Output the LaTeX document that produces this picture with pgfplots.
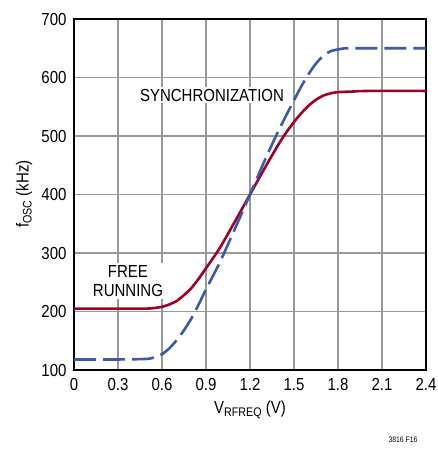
\documentclass[border=0pt]{standalone}
\usepackage{fontspec}
\setmainfont{Liberation Sans}[FakeStretch=0.86]
\usepackage{pgfplots}
\pgfplotsset{compat=1.18}
\definecolor{redc}{HTML}{A00028}
\definecolor{bluec}{HTML}{3D59A8}
\definecolor{gridc}{HTML}{9A9A9A}
\newcommand{\lbl}{\fontsize{17.5}{20}\selectfont}
\begin{document}
\begin{tikzpicture}
\useasboundingbox (-74bp,-80bp) rectangle (364bp,370bp);
\begin{axis}[at={(0,0)},anchor=south west,
  scale only axis, width=352bp, height=351bp,
  xmin=0, xmax=2.4, ymin=100, ymax=700,
  xtick={0,0.3,0.6,0.9,1.2,1.5,1.8,2.1,2.4},
  xticklabels={0,0.3,0.6,0.9,1.2,1.5,1.8,2.1,2.4},
  ytick={100,200,300,400,500,600,700},
  yticklabels={100,200,300,400,500,600,700},
  grid=major,
  major grid style={gridc, line width=1.2bp},
  axis line style={line width=1.5bp},
  major tick length=0pt,
  tick label style={font=\lbl},
  /pgf/number format/assume math mode=true,
  xticklabel style={yshift=-5bp},
  yticklabel style={xshift=-4bp},
  clip=false,
]
\addplot[redc, line width=2.6bp, smooth, tension=0.4] coordinates {
(0,205)(0.3,205)(0.5,205)(0.55,206)(0.6,208)(0.65,212)(0.7,218)(0.75,228)(0.8,240)(0.85,256)(0.9,274)(0.95,292)(1.0,311)(1.1,355)(1.2,400)(1.3,445)(1.4,488)(1.45,507)(1.5,524)(1.55,539)(1.6,552)(1.65,562)(1.7,569)(1.75,573)(1.8,575)(1.9,576)(2.0,577)(2.4,577)};
\addplot[bluec, line width=2.6bp, smooth, tension=0.4, dash pattern=on 22bp off 7bp] coordinates {
(0,118)(0.3,118)(0.5,119)(0.55,122)(0.6,127)(0.65,137)(0.7,151)(0.75,168)(0.8,188)(0.85,212)(0.9,238)(0.95,262)(1.0,287)(1.1,343)(1.2,400)(1.3,458)(1.4,512)(1.5,561)(1.55,585)(1.6,606)(1.65,624)(1.7,637)(1.75,645)(1.8,648)(1.85,650)(1.9,650)(2.4,650)};
\node[fill=white, inner sep=2bp, font=\lbl] at (axis cs:0.941,570) {SYNCHRONIZATION};
\node[fill=white, inner sep=2bp, font=\lbl, align=center] at (axis cs:0.368,252) {FREE\\RUNNING};
\end{axis}
\node[rotate=90, font=\lbl] at (-50bp,176bp) {f\raisebox{-0.35ex}{\fontsize{12.5}{14}\selectfont OSC} (kHz)};
\node[font=\lbl] at (176bp,-40bp) {V\raisebox{-0.35ex}{\fontsize{12.5}{14}\selectfont RFREQ} (V)};
\node[font=\fontsize{8}{9}\selectfont] at (329bp,-70bp) {3816 F16};
\end{tikzpicture}
\end{document}
